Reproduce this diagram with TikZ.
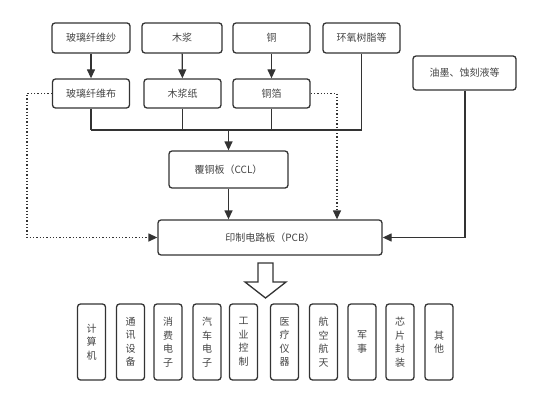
\documentclass[tikz,border=0pt]{standalone}
\usepackage{fontspec}
\setmainfont{Noto Sans CJK SC}
\usetikzlibrary{arrows.meta}
\definecolor{ln}{HTML}{333333}
\definecolor{tx}{HTML}{444444}
\tikzset{
  box/.style={draw=ln, line width=1.3pt, rounded corners=3pt, fill=white, text=tx,
    inner sep=0pt, font=\fontsize{10}{12}\selectfont},
  vbox/.style={box, minimum width=28pt, minimum height=76pt, align=center,
    font=\fontsize{10}{13.5}\selectfont},
  conn/.style={draw=ln, line width=1.3pt},
  arr/.style={conn, -{Triangle[length=9pt,width=8pt]}},
  dot/.style={draw=ln, line width=1.3pt, dotted, -{Triangle[length=9pt,width=8pt]}}
}
\begin{document}
\begin{tikzpicture}[x=1pt,y=-1pt]
\useasboundingbox (0,0) rectangle (534,406);
\fill[white] (0,0) rectangle (534,406);
% top row
\node[box, minimum width=78pt, minimum height=30pt] (a1) at (91,38) {玻璃纤维纱};
\node[box, minimum width=80pt, minimum height=30pt] (a2) at (182,38) {木浆};
\node[box, minimum width=77pt, minimum height=30pt] (a3) at (271.5,38) {铜};
\node[box, minimum width=77pt, minimum height=30pt] (a4) at (361.5,38) {环氧树脂等};
\node[box, minimum width=103pt, minimum height=34pt] (ink) at (464.5,73) {油墨、蚀刻液等};
% second row
\node[box, minimum width=77pt, minimum height=29pt] (b1) at (91,93.5) {玻璃纤维布};
\node[box, minimum width=77pt, minimum height=29pt] (b2) at (182.5,93.5) {木浆纸};
\node[box, minimum width=77pt, minimum height=29pt] (b3) at (271.5,93.5) {铜箔};
% CCL, PCB
\node[box, minimum width=119pt, minimum height=37pt] (ccl) at (228.5,169.5) {覆铜板（CCL）};
\node[box, minimum width=224pt, minimum height=35pt] (pcb) at (270,237.5) {印制电路板（PCB）};
% arrows top->second
\draw[arr] (a1) -- (b1);
\draw[arr] (a2) -- (b2);
\draw[arr] (a3) -- (b3);
% bus
\coordinate (k1) at (91,130);
\coordinate (k2) at (182.5,130);
\coordinate (k3) at (271.5,130);
\coordinate (k4) at (361.5,130);
\coordinate (km) at (228.5,130);
\draw[conn] (b1.south) -- (k1);
\draw[conn] (b2.south) -- (k2);
\draw[conn] (b3.south) -- (k3);
\draw[conn] (a4.south) -- (k4);
\draw[conn] (k1) -- (k4);
\draw[arr] (km) -- (ccl.north);
\draw[arr] (ccl.south) -- (pcb.north -| ccl.south);
% dotted
\coordinate (d1) at (27,93.5);
\coordinate (d2) at (27,237.5);
\draw[dot] (b1.west) -- (d1) -- (d2) -- (pcb.west);
\coordinate (d3) at (337,93.5);
\draw[dot] (b3.east) -- (d3) -- (d3 |- pcb.north);
% ink
\coordinate (i1) at (465,237.5);
\draw[arr] (ink.south -| i1) -- (i1) -- (pcb.east);
% hollow arrow
\draw[draw=ln, line width=1.3pt, fill=white, line join=miter]
  (258,263) -- (273,263) -- (273,282) -- (286,282) -- (265.5,298) -- (245,282) -- (258,282) -- cycle;
% bottom boxes
\node[vbox] (c1) at (91.5,342) {计\\算\\机};
\node[vbox] (c2) at (130.5,342) {通\\讯\\设\\备};
\node[vbox] (c3) at (168,342) {消\\费\\电\\子};
\node[vbox] (c4) at (207,342) {汽\\车\\电\\子};
\node[vbox] (c5) at (243.5,342) {工\\业\\控\\制};
\node[vbox] (c6) at (284.5,342) {医\\疗\\仪\\器};
\node[vbox] (c7) at (323.5,342) {航\\空\\航\\天};
\node[vbox] (c8) at (362,342) {军\\事};
\node[vbox] (c9) at (400,342) {芯\\片\\封\\装};
\node[vbox] (c10) at (439,342) {其\\他};
\end{tikzpicture}
\end{document}
